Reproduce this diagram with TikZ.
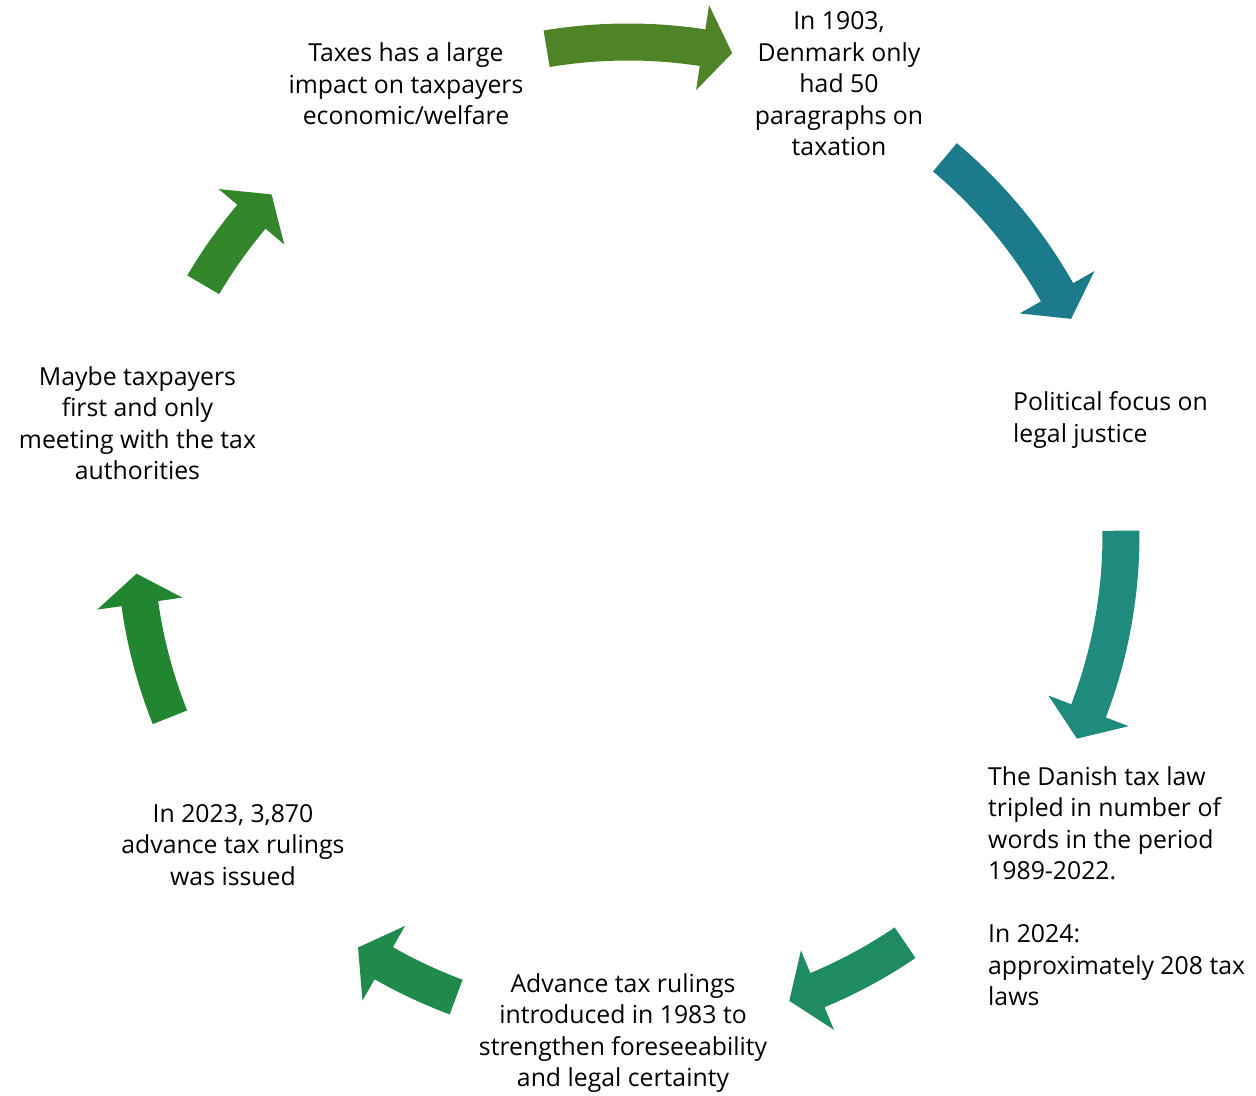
\documentclass[tikz,border=0pt]{standalone}
\usepackage{fontspec}
\setmainfont{Open Sans}
\definecolor{ca}{HTML}{4E8427}
\definecolor{cb}{HTML}{1B7B8A}
\definecolor{cc}{HTML}{1E8B7D}
\definecolor{cd}{HTML}{1F8B62}
\definecolor{ce}{HTML}{208A4B}
\definecolor{cf}{HTML}{21862F}
\definecolor{cg}{HTML}{33862A}
\newcommand\cyclearrow[4]{% name, color, tail angle, tip angle
  \pgfmathsetmacro\baseang{#4+3.5}
  \fill[#2] (#3:511.5bp) arc[start angle=#3, end angle=\baseang, radius=511.5bp]
    -- (\baseang:536bp) -- (#4:493bp) coordinate (#1) -- (\baseang:450bp)
    -- (\baseang:474.5bp) arc[start angle=\baseang, end angle=#3, radius=474.5bp] -- cycle;}
\begin{document}
\begin{tikzpicture}[x=1bp,y=1bp,
  lbl/.style={inner sep=0pt, align=center, font=\fontsize{24.8bp}{31.5bp}\selectfont, text=black},
  lbll/.style={lbl, align=left, anchor=west}]
\useasboundingbox (0,0) rectangle (1256,1096);
\begin{scope}[shift={(628,561)}]
  \cyclearrow{a1}{ca}{99.5}{77.8}
  \cyclearrow{a2}{cb}{50.0}{26.0}
  \cyclearrow{a3}{cc}{0.5}{-24.4}
  \cyclearrow{a4}{cd}{-55.8}{-70.9}
  \cyclearrow{a5}{ce}{-110.4}{-123.2}
  \cyclearrow{a6}{cf}{-158.3}{-175.5}
  \cyclearrow{a7}{cg}{149.5}{136.3}
\end{scope}
\node[lbl] (t1) at (406,1012) {Taxes has a large\\impact on taxpayers\\economic/welfare};
\node[lbl] (t2) at (839,1012) {In 1903,\\Denmark only\\had 50\\paragraphs on\\taxation};
\node[lbll] (t3) at (1013,676) {Political focus on\\legal justice};
\node[lbll] (t4) at (988,210) {The Danish tax law\\tripled in number of\\words in the period\\1989-2022.\\[31.5bp]In 2024:\\approximately 208 tax\\laws};
\node[lbl] (t5) at (623,63) {Advance tax rulings\\introduced in 1983 to\\strengthen foreseeability\\and legal certainty};
\node[lbl] (t6) at (233,251) {In 2023, 3,870\\advance tax rulings\\was issued};
\node[lbl] (t7) at (137.5,673) {Maybe taxpayers\\first and only\\meeting with the tax\\authorities};
\end{tikzpicture}
\end{document}
